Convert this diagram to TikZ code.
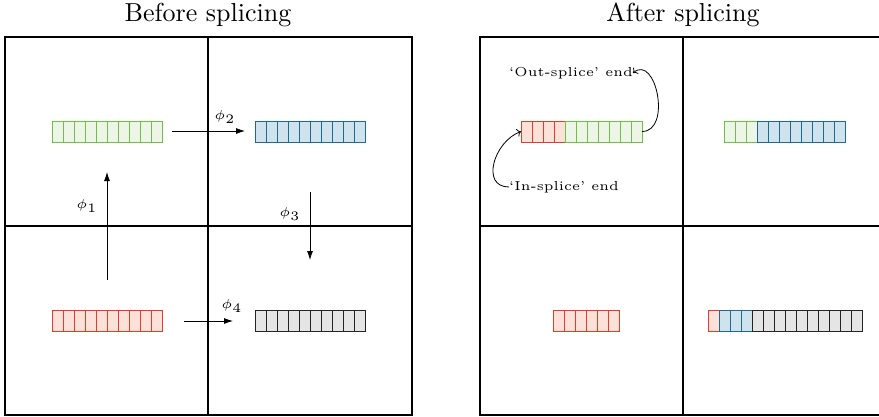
\documentclass[tikz,border=0pt]{standalone}
\usepackage{graphicx}
\usetikzlibrary{arrows.meta}
\definecolor{gline}{RGB}{110,192,70}
\definecolor{gfill}{RGB}{237,245,231}
\definecolor{rline}{RGB}{222,62,42}
\definecolor{rfill}{RGB}{251,225,215}
\definecolor{bline}{RGB}{28,106,150}
\definecolor{bfill}{RGB}{207,227,237}
\definecolor{kline}{RGB}{35,35,35}
\definecolor{kfill}{RGB}{229,229,229}
\newcommand{\bigtxt}[1]{\scalebox{2.6}{#1}}
\tikzset{
  cell/.style={draw, line width=0.9pt, minimum width=11pt, minimum height=21pt, inner sep=0pt, outer sep=0pt},
  gcell/.style={cell, draw=gline, fill=gfill},
  rcell/.style={cell, draw=rline, fill=rfill},
  bcell/.style={cell, draw=bline, fill=bfill},
  kcell/.style={cell, draw=kline, fill=kfill},
  grid/.style={line width=1.6pt},
  maparrow/.style={line width=0.8pt, -{Latex[length=9pt,width=6pt]}},
  notearrow/.style={line width=0.8pt, -{To[length=4pt,width=8pt]}},
  phil/.style={inner sep=0pt},
  title/.style={inner sep=0pt},
  note/.style={inner sep=0pt}
}
\begin{document}
\begin{tikzpicture}[x=1pt,y=-1pt]
\useasboundingbox (0,0) rectangle (879,416);
\clip (0,0) rectangle (879,416);
% titles
\node[title] (t1) at (208,15) {\bigtxt{\normalsize Before splicing}};
\node[title] (t2) at (683,15) {\bigtxt{\normalsize After splicing}};
% grids
\draw[grid] (5,37) rectangle (412,415);
\draw[grid] (208,37) -- (208,415);
\draw[grid] (5,226) -- (412,226);
\draw[grid] (480,37) rectangle (887,415);
\draw[grid] (683,37) -- (683,415);
\draw[grid] (480,226) -- (887,226);
% before: blocks
\foreach \i in {0,...,9} {
  \node[gcell] (g\i) at (57.5+11*\i,131.5) {};
  \node[bcell] (b\i) at (260.5+11*\i,131.5) {};
  \node[rcell] (r\i) at (57.5+11*\i,320.5) {};
  \node[kcell] (k\i) at (260.5+11*\i,320.5) {};
}
% maps
\coordinate (p1s) at (107,280); \coordinate (p1e) at (107,172);
\coordinate (p2s) at (172,131); \coordinate (p2e) at (245,131);
\coordinate (p3s) at (310,192); \coordinate (p3e) at (310,260);
\coordinate (p4s) at (184,321); \coordinate (p4e) at (233,321);
\draw[maparrow] (p1s) -- (p1e);
\draw[maparrow] (p2s) -- (p2e);
\draw[maparrow] (p3s) -- (p3e);
\draw[maparrow] (p4s) -- (p4e);
\node[phil] (l1) at (87,206) {\bigtxt{\tiny $\phi_1$}};
\node[phil] (l2) at (225,117) {\bigtxt{\tiny $\phi_2$}};
\node[phil] (l3) at (290,214) {\bigtxt{\tiny $\phi_3$}};
\node[phil] (l4) at (232,306) {\bigtxt{\tiny $\phi_4$}};
% after: top-left
\foreach \i in {0,...,3} \node[rcell] (ar\i) at (526.5+11*\i,131.5) {};
\foreach \i in {0,...,6} \node[gcell] (ag\i) at (570.5+11*\i,131.5) {};
\node[note, anchor=east] (outt) at (633,73) {\bigtxt{\tiny `Out-splice' end}};
\node[note, anchor=west] (int) at (509,187) {\bigtxt{\tiny `In-splice' end}};
\draw[notearrow] (ag6.east) to[out=0,in=40,looseness=1.3] (outt.east);
\draw[notearrow] (int.west) to[out=180,in=200,looseness=1.3] (ar0.west);
% after: top-right
\foreach \i in {0,...,2} \node[gcell] (tg\i) at (729.5+11*\i,131.5) {};
\foreach \i in {0,...,7} \node[bcell] (tb\i) at (762.5+11*\i,131.5) {};
% after: bottom-left
\foreach \i in {0,...,5} \node[rcell] (br\i) at (559+11*\i,320.5) {};
% after: bottom-right
\node[rcell] (cr0) at (713.5,320.5) {};
\foreach \i in {0,...,2} \node[bcell] (cb\i) at (724.5+11*\i,320.5) {};
\foreach \i in {0,...,9} \node[kcell] (ck\i) at (757.5+11*\i,320.5) {};
\end{tikzpicture}
\end{document}
